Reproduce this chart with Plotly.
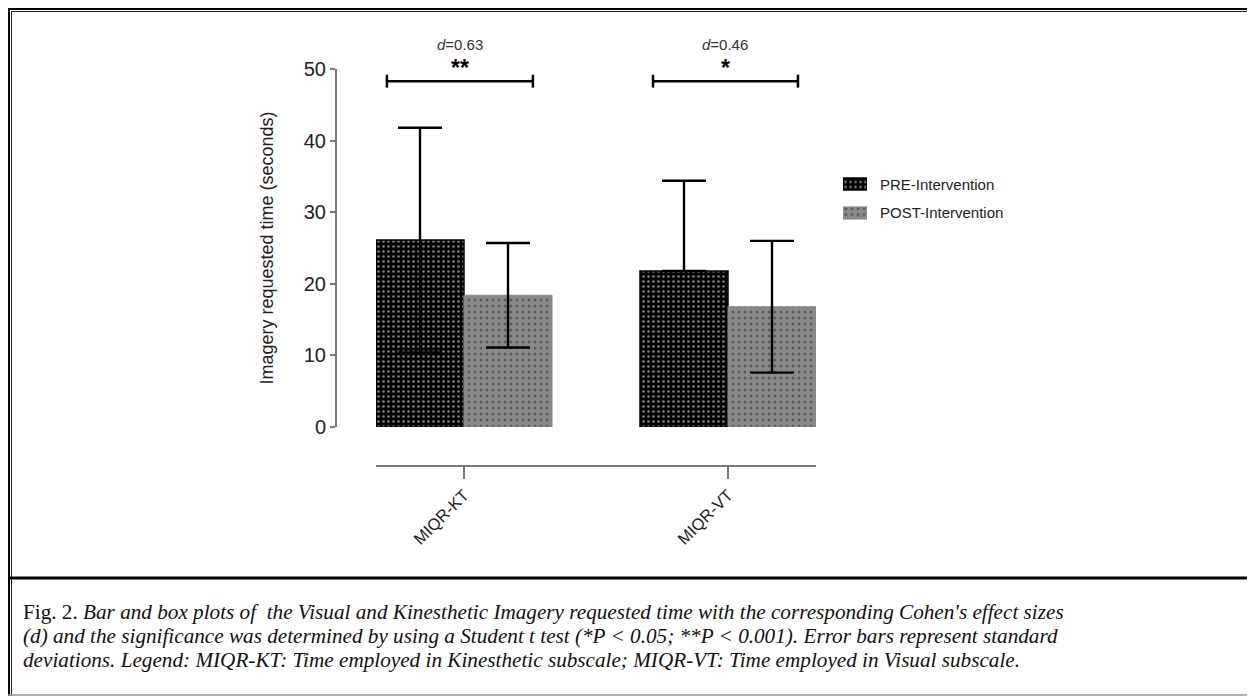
import plotly.graph_objects as go

# reference canvas size; the page body adds an 8px margin, so the figure is
# drawn 8px smaller and positions are given in reference-pixel terms.
W, H = 1255, 696
OFF = 8
FW, FH = W - OFF, H - OFF

# ---- data ----
categories = ["MIQR-KT", "MIQR-VT"]
series_names = ["PRE-Intervention", "POST-Intervention"]
pre_mean = [26.1, 21.8]
post_mean = [18.4, 16.8]
pre_sd_up = [15.7, 12.6]
pre_sd_down = [15.7, 0.0]
post_sd = [7.3, 9.2]
effect_labels = ["<i>d</i>=0.63", "<i>d</i>=0.46"]
sig_labels = ["**", "*"]
y_ticks = [0, 10, 20, 30, 40, 50]
caption_lines = [
    "Fig. 2. <i>Bar and box plots of  the Visual and Kinesthetic Imagery requested time with the corresponding Cohen's effect sizes</i>",
    "<i>(d) and the significance was determined by using a Student t test (*P &lt; 0.05; **P &lt; 0.001). Error bars represent standard</i>",
    "<i>deviations. Legend: MIQR-KT: Time employed in Kinesthetic subscale; MIQR-VT: Time employed in Visual subscale.</i>",
]

SANS = "Liberation Sans, Arial, Helvetica"
SERIF = "Liberation Serif, Times New Roman, serif"


def px_x(p):
    return (p - OFF) / FW


def px_y(p):
    return 1 - (p - OFF) / FH


xpos = [0, 1]
bw = 1 / 3

PRE_MARKER = dict(color="black", line=dict(color="black", width=1.5),
                  pattern=dict(shape=".", fgcolor="white", bgcolor="black", size=5, solidity=0.22))
POST_MARKER = dict(color="#8a8a8a", line=dict(color="#8a8a8a", width=1),
                   pattern=dict(shape=".", fgcolor="#2a2a2a", bgcolor="#8a8a8a", size=6, solidity=0.2))

fig = go.Figure()
fig.add_trace(go.Bar(
    x=xpos, y=pre_mean, width=[bw, bw], offset=-bw, name=series_names[0], showlegend=False,
    marker=PRE_MARKER,
    error_y=dict(type="data", symmetric=False, array=pre_sd_up, arrayminus=pre_sd_down,
                 color="black", thickness=2.4, width=22),
))
fig.add_trace(go.Bar(
    x=xpos, y=post_mean, width=[bw, bw], offset=0, name=series_names[1], showlegend=False,
    marker=POST_MARKER,
    error_y=dict(type="data", symmetric=True, array=post_sd,
                 color="black", thickness=2.4, width=22),
))

# custom legend swatches (tiny horizontal bars on their own axes)
fig.add_trace(go.Bar(x=[1], y=[1], orientation="h", width=0.42, marker=PRE_MARKER,
                     xaxis="x2", yaxis="y2", showlegend=False, hoverinfo="skip"))
fig.add_trace(go.Bar(x=[1], y=[0], orientation="h", width=0.42, marker=POST_MARKER,
                     xaxis="x2", yaxis="y2", showlegend=False, hoverinfo="skip"))

# significance brackets (in data coordinates)
brackets = [(-0.292, 0.261), (0.716, 1.265)]
bracket_y = 48.3
shapes = []
for (a, b) in brackets:
    shapes.append(dict(type="line", xref="x", yref="y", x0=a, x1=b, y0=bracket_y, y1=bracket_y,
                       line=dict(color="black", width=2.5)))
    for xx in (a, b):
        shapes.append(dict(type="line", xref="x", yref="y", x0=xx, x1=xx,
                           y0=bracket_y - 0.9, y1=bracket_y + 0.9,
                           line=dict(color="black", width=2.5)))

annotations = []
for (a, b), eff, sig in zip(brackets, effect_labels, sig_labels):
    m = (a + b) / 2
    annotations.append(dict(x=m, y=px_y(45), xref="x", yref="paper", text=eff, showarrow=False,
                            font=dict(family=SANS, size=15, color="#333"),
                            xanchor="center", yanchor="middle"))
    annotations.append(dict(x=m, y=px_y(68), xref="x", yref="paper", text="<b>" + sig + "</b>",
                            showarrow=False, font=dict(family=SANS, size=23, color="black"),
                            xanchor="center", yanchor="middle"))

# legend labels
for name, yy in zip(series_names, [184, 213]):
    annotations.append(dict(x=px_x(878), y=px_y(yy), xref="paper", yref="paper", text=name,
                            showarrow=False, xanchor="left", yanchor="middle",
                            font=dict(family=SANS, size=15, color="#222")))

# caption
for i, line in enumerate(caption_lines):
    annotations.append(dict(x=px_x(21), y=px_y(612 + 24 * i), xref="paper", yref="paper", text=line,
                            showarrow=False, xanchor="left", yanchor="middle", align="left",
                            font=dict(family=SERIF, size=21.2, color="#111")))

# frame lines (reference pixel coordinates)
frame = [
    dict(x0=7, y0=8.5, x1=W, y1=8.5, c="black", w=3),
    dict(x0=8.5, y0=7, x1=8.5, y1=H, c="black", w=3),
    dict(x0=11, y0=11.5, x1=W, y1=11.5, c="#222", w=1),
    dict(x0=11.5, y0=11, x1=11.5, y1=H, c="#222", w=1),
    dict(x0=8, y0=578, x1=W, y1=578, c="black", w=3),
    dict(x0=W - 1, y0=11, x1=W - 1, y1=H, c="#aaa", w=1.5),
    dict(x0=8, y0=H - 1, x1=W, y1=H - 1, c="#999", w=1.5),
]
for f in frame:
    shapes.append(dict(type="line", xref="paper", yref="paper", x0=px_x(f["x0"]), x1=px_x(f["x1"]),
                       y0=px_y(f["y0"]), y1=px_y(f["y1"]), line=dict(color=f["c"], width=f["w"])))

fig.update_layout(
    width=FW, height=FH, autosize=False,
    margin=dict(l=0, r=0, t=0, b=0, pad=0, autoexpand=False),
    paper_bgcolor="white", plot_bgcolor="white",
    barmode="overlay",
    showlegend=False,
    xaxis=dict(domain=[px_x(376), px_x(816)], range=[-1 / 3, 4 / 3], anchor="free",
               position=px_y(466), tickmode="array", tickvals=xpos, ticktext=categories,
               tickangle=-45, ticks="outside", ticklen=12, tickwidth=2, tickcolor="#7a7a7a",
               showline=True, linecolor="#7a7a7a", linewidth=2, showgrid=False, zeroline=False,
               automargin=False, fixedrange=True,
               tickfont=dict(family=SANS, size=16.5, color="#222")),
    yaxis=dict(domain=[px_y(427), px_y(69)], range=[0, 50], anchor="free", position=px_x(336),
               tickmode="array", tickvals=y_ticks, ticks="outside", ticklen=5, tickwidth=2,
               tickcolor="#7a7a7a", showline=True, linecolor="#7a7a7a", linewidth=2,
               showgrid=False, zeroline=False, automargin=False, fixedrange=True,
               tickfont=dict(family=SANS, size=20, color="#222"),
               title=dict(text="Imagery requested time (seconds)", standoff=24,
                          font=dict(family=SANS, size=18, color="#222"))),
    xaxis2=dict(domain=[px_x(843), px_x(867)], range=[0, 1], anchor="y2", visible=False,
                fixedrange=True),
    yaxis2=dict(domain=[px_y(227.5), px_y(169.5)], range=[-0.5, 1.5], anchor="x2", visible=False,
                fixedrange=True),
    shapes=shapes,
    annotations=annotations,
)

fig.write_html("out.html")
